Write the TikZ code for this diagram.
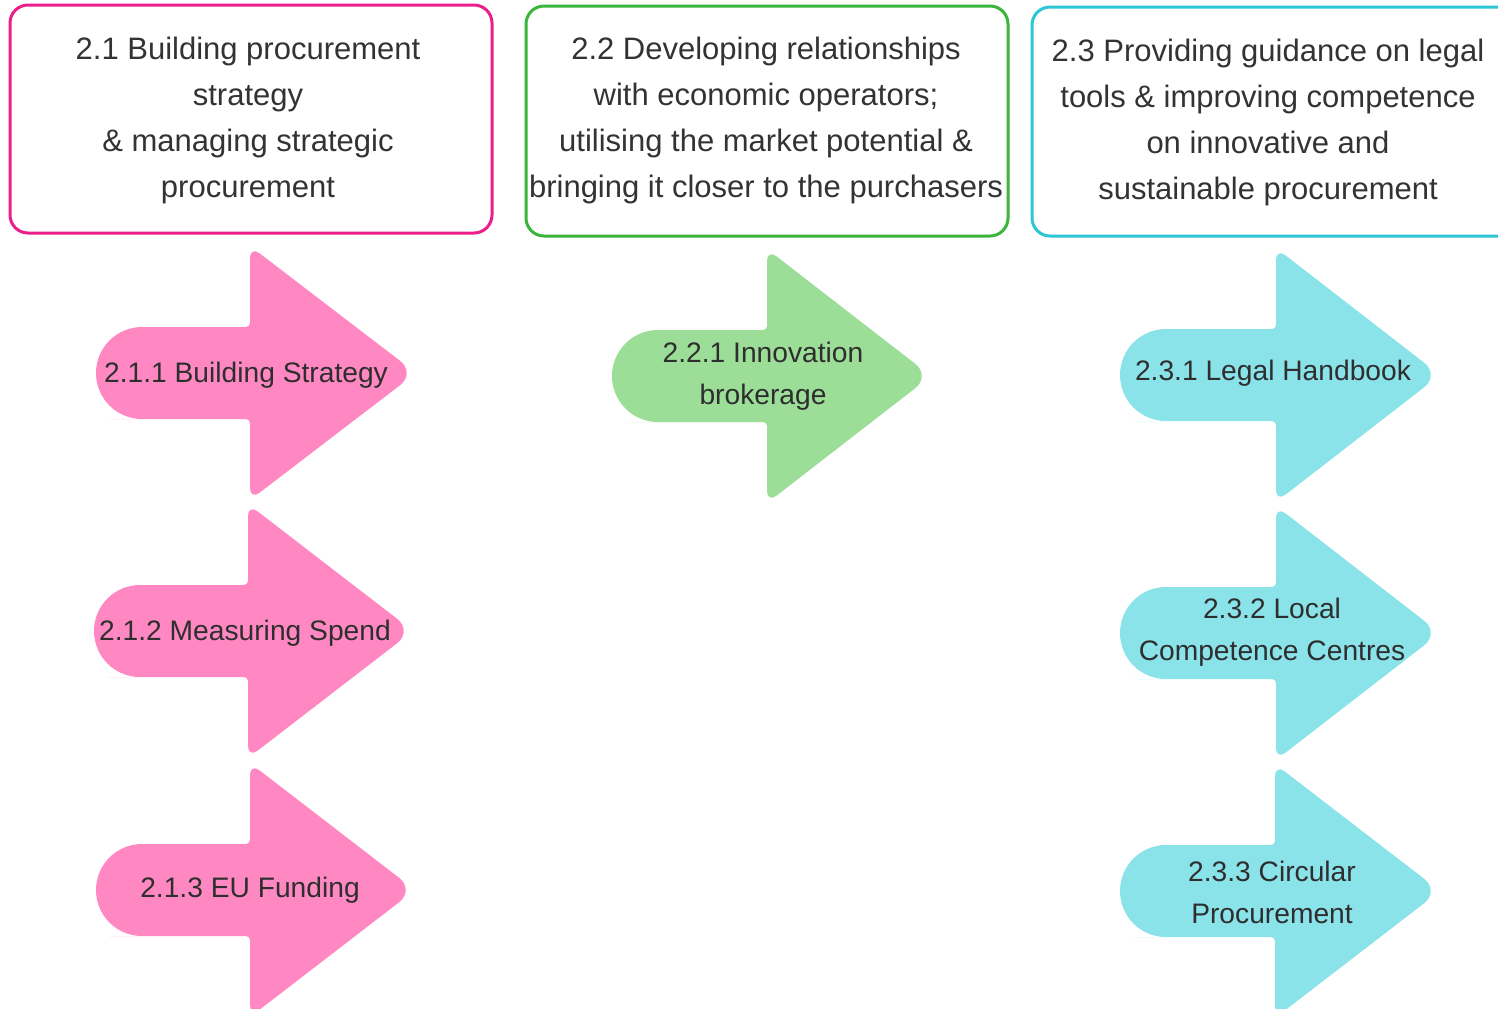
\documentclass[tikz,border=0pt]{standalone}
\usepackage{fontspec}
\setmainfont{Liberation Sans}
\definecolor{pinkline}{HTML}{EC1E8C}
\definecolor{greenline}{HTML}{3BB53B}
\definecolor{cyanline}{HTML}{2CC6D4}
\definecolor{pinkfill}{HTML}{FF88C2}
\definecolor{greenfill}{HTML}{9CDD98}
\definecolor{cyanfill}{HTML}{8BE3EA}
\newcommand\fatarrow[5]{%
  \fill[#1] (#2+60,#5-46) [rounded corners=23pt] -- (#2,#5-46) -- (#2,#5+46) -- (#2+60,#5+46)
    [rounded corners=2pt] -- (#3,#5+46) [rounded corners=6pt] -- (#3,#5+127)
    [rounded corners=10pt] -- (#4+13,#5) [rounded corners=6pt] -- (#3,#5-127)
    [rounded corners=2pt] -- (#3,#5-46) [sharp corners] -- cycle;}
\begin{document}
\begin{tikzpicture}[x=0.5pt,y=-0.5pt,
  headbox/.style={line width=1.5pt,rounded corners=9pt,fill=white},
  headtext/.style={align=center,font=\fontsize{15.5pt}{23pt}\selectfont,text=black!80,inner sep=0pt},
  armtext/.style={align=center,font=\fontsize{14.1pt}{21pt}\selectfont,text=black!82,inner sep=0pt}]
\clip (0,0) rectangle (1498,1008);
\fill[white] (0,0) rectangle (1498,1008);
% header boxes
\draw[headbox,draw=pinkline] (10,5) rectangle (492,233);
\draw[headbox,draw=greenline] (526,6) rectangle (1008,236);
\draw[headbox,draw=cyanline] (1032,7) rectangle (1530,236);
\node[headtext] (h1) at (248,120) {2.1 Building procurement\\strategy\\\& managing strategic\\procurement};
\node[headtext] (h2) at (766,120) {2.2 Developing relationships\\with economic operators;\\utilising the market potential \&\\bringing it closer to the purchasers};
\node[headtext] (h3) at (1268,122) {2.3 Providing guidance on legal\\tools \& improving competence\\on innovative and\\sustainable procurement};
% arrows
\fatarrow{pinkfill}{96}{250}{403}{373}
\fatarrow{pinkfill}{94}{248}{400}{631}
\fatarrow{pinkfill}{96}{250}{402}{890}
\fatarrow{greenfill}{612}{767}{918}{376}
\fatarrow{cyanfill}{1120}{1276}{1427}{375}
\fatarrow{cyanfill}{1120}{1276}{1427}{633}
\fatarrow{cyanfill}{1120}{1275}{1427}{891}
\node[armtext] (a211) at (246,375) {2.1.1 Building Strategy};
\node[armtext] (a212) at (245,633) {2.1.2 Measuring Spend};
\node[armtext] (a213) at (250,890) {2.1.3 EU Funding};
\node[armtext] (a221) at (763,376) {2.2.1 Innovation\\brokerage};
\node[armtext] (a231) at (1273,373) {2.3.1 Legal Handbook};
\node[armtext] (a232) at (1272,632) {2.3.2 Local\\Competence Centres};
\node[armtext] (a233) at (1272,892) {2.3.3 Circular\\Procurement};
\end{tikzpicture}
\end{document}
